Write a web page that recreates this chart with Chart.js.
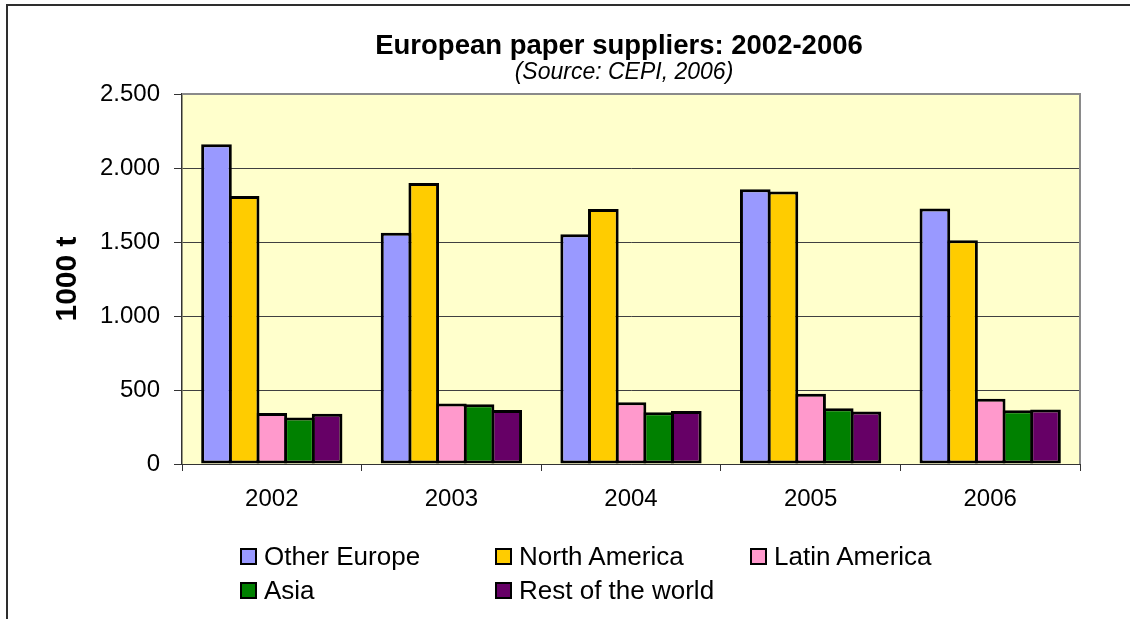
<!DOCTYPE html>
<html>
<head>
<meta charset="utf-8">
<script src="https://cdn.jsdelivr.net/npm/chart.js@4/dist/chart.umd.min.js"></script>
<style>
  html, body { margin: 0; padding: 0; background: #fff; overflow: hidden; }
  body { width: 1130px; height: 619px; position: relative; font-family: "Liberation Sans", Arial, sans-serif; }
  #frame { position: absolute; left: 6px; top: 4px; width: 2000px; height: 2000px; border: 2px solid #2e2e2e; box-sizing: border-box; }
  #wrap { position: absolute; left: 0; top: 0; width: 1130px; height: 619px; }
  .t { position: absolute; white-space: nowrap; color: #000; transform: translateX(-50%); }
  #title { left: 619px; top: 30.5px; font-size: 27.5px; line-height: 27px; font-weight: bold; }
  #subtitle { left: 624px; top: 60px; font-size: 23px; line-height: 23px; font-style: italic; }
  #legend { position: absolute; left: 0; top: 0; }
  .li { position: absolute; height: 26px; white-space: nowrap; font-size: 26px; line-height: 26px; color: #000; }
  .li .box { position: absolute; left: 0; top: 5px; width: 17px; height: 17px; border: 2px solid #000; box-sizing: border-box; }
  .li .lbl { position: absolute; left: 24px; top: 0; }
</style>
</head>
<body>
<div id="frame"></div>
<div id="wrap"><canvas id="c" width="1130" height="619"></canvas></div>
<div id="title" class="t">European paper suppliers: 2002-2006</div>
<div id="subtitle" class="t">(Source: CEPI, 2006)</div>
<div id="legend"></div>
<script>
// ---- data ----
const categories = ['2002', '2003', '2004', '2005', '2006'];
const seriesNames = ['Other Europe', 'North America', 'Latin America', 'Asia', 'Rest of the world'];
const otherEurope  = [2160, 1563, 1552, 1856, 1727];
const northAmerica = [1811, 1899, 1723, 1842, 1511];
const latinAmerica = [344, 408, 417, 475, 441];
const asia         = [315, 403, 349, 376, 363];
const restOfWorld  = [340, 365, 358, 354, 369];
const yTickLabels  = ['0', '500', '1.000', '1.500', '2.000', '2.500'];
const yAxisTitle   = '1000 t';

const seriesColors = ['#9999FF', '#FFCC00', '#FF99CC', '#008000', '#660066'];
const seriesValues = [otherEurope, northAmerica, latinAmerica, asia, restOfWorld];

Chart.defaults.font.family = '"Liberation Sans", Arial, sans-serif';
Chart.defaults.color = '#000';

const plotBg = {
  id: 'plotBg',
  beforeDraw(chart) {
    const a = chart.chartArea, ctx = chart.ctx;
    ctx.save();
    ctx.fillStyle = '#FFFFCC';
    ctx.fillRect(a.left, a.top, a.right - a.left, a.bottom - a.top);
    ctx.restore();
  },
  afterDraw(chart) {
    const a = chart.chartArea, ctx = chart.ctx;
    ctx.save();
    ctx.strokeStyle = '#8a8a8a';
    ctx.lineWidth = 2;
    ctx.beginPath();
    ctx.moveTo(a.left, a.top);
    ctx.lineTo(a.right, a.top);
    ctx.lineTo(a.right, a.bottom);
    ctx.stroke();
    ctx.restore();
  }
};

const datasets = seriesNames.map((name, i) => ({
  label: name,
  data: seriesValues[i],
  backgroundColor: seriesColors[i],
  borderColor: '#000',
  borderWidth: 3,
  borderSkipped: false,
  barPercentage: 1.108,
  categoryPercentage: 0.77
}));

const chart = new Chart(document.getElementById('c'), {
  type: 'bar',
  data: { labels: categories, datasets },
  options: {
    responsive: false,
    animation: false,
    devicePixelRatio: 1,
    layout: { padding: { left: 0, top: 94, right: 50, bottom: 105 } },
    plugins: {
      legend: { display: false },
      title: { display: false },
      tooltip: { enabled: false }
    },
    scales: {
      x: {
        grid: { display: true, drawOnChartArea: false, drawTicks: true, tickLength: 7, color: '#333', offset: true },
        border: { display: true, color: '#333', width: 1 },
        ticks: { font: { size: 24 }, padding: 13.5, color: '#000' },
        afterFit(scale) { scale.height = 50; }
      },
      y: {
        min: 0, max: 2500,
        grid: { color: '#404040', lineWidth: 1, tickLength: 8, tickColor: '#333' },
        border: { display: true, color: '#333', width: 1.5 },
        ticks: {
          stepSize: 500,
          font: { size: 24 },
          padding: 14,
          color: '#000',
          callback: (v, i) => yTickLabels[i]
        },
        title: {
          display: true,
          text: yAxisTitle,
          font: { size: 30, weight: 'bold', lineHeight: 1 },
          padding: { top: 52.5, bottom: 0 },
          color: '#000'
        },
        afterFit(scale) { scale.width = 182; }
      }
    }
  },
  plugins: [plotBg]
});

// ---- HTML legend built from chart datasets ----
const legend = document.getElementById('legend');
const colX = [240, 495, 750];
const rowY = [543, 577];
chart.data.datasets.forEach((ds, i) => {
  const row = Math.floor(i / 3), col = i % 3;
  const item = document.createElement('div');
  item.className = 'li';
  item.style.left = colX[col] + 'px';
  item.style.top = rowY[row] + 'px';
  const box = document.createElement('span');
  box.className = 'box';
  box.style.background = ds.backgroundColor;
  const lbl = document.createElement('span');
  lbl.className = 'lbl';
  lbl.textContent = ds.label;
  item.appendChild(box);
  item.appendChild(lbl);
  legend.appendChild(item);
});
</script>
</body>
</html>
